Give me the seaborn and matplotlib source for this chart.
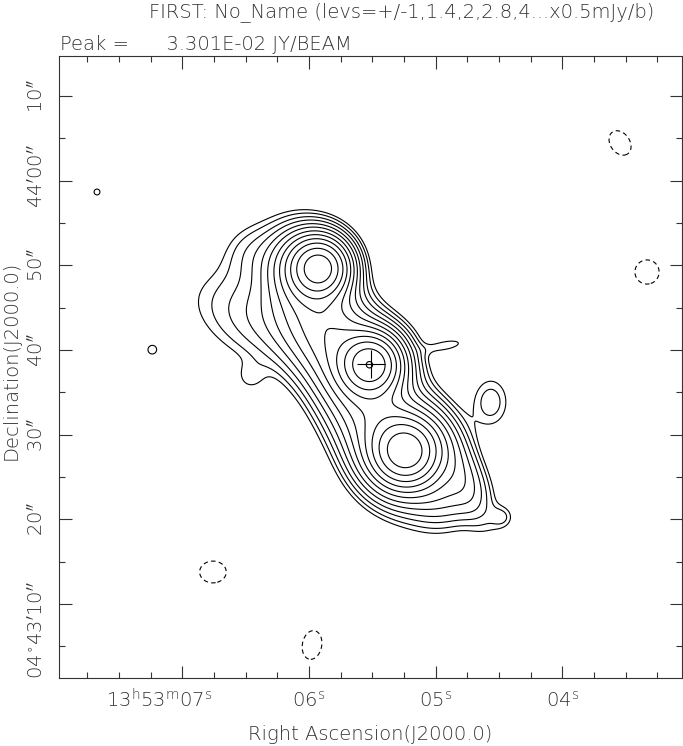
import numpy as np
import matplotlib
matplotlib.use("Agg")
import matplotlib.pyplot as plt
import matplotlib.transforms as mtransforms
import seaborn as sns

# cut-out limits: RA in seconds past 13h53m, Dec in arcsec past +04d43'
ra_left, ra_right = 7.973, 3.056
dec_bottom, dec_top = 1.26, 74.72
dec_centre_deg = 4.72

# source model (by eye): centre, peak (mJy/beam),
# gaussian sigma along/across (arcsec), angle of long axis (deg, ccw from west)
#   N, N halo, C, C halo, S, S halo, ridge N-C, ridge C-S, west wing, shoulder,
#   bump, SE extension, SE edge, tail, NE spur, east source, 4 holes, 2 specks
comp_ra = [5.913, 5.976, 5.511, 5.511, 5.234, 5.234, 5.874, 5.479, 6.189, 6.466,
           6.466, 4.927, 4.808, 4.469, 4.903, 4.564,
           3.545, 3.332, 6.758, 5.976, 7.673, 7.239]
comp_dec = [49.68, 49.90, 38.35, 38.35, 28.07, 28.07, 42.95, 32.44, 42.95, 51.57,
            36.69, 22.87, 25.83, 20.28, 40.59, 33.86,
            64.45, 49.21, 13.78, 5.16, 58.66, 40.00]
comp_peak = [20.0, 8.0, 20.0, 7.0, 19.0, 9.0, 5.5, 6.0, 1.6, 0.6,
             0.45, 1.5, 1.6, 0.6, 0.6, 0.85,
             -0.6, -0.6, -0.6, -0.6, 0.515, 0.515]
comp_sig_a = [1.89, 2.60, 1.89, 2.60, 2.13, 3.07, 5.90, 5.90, 7.00, 2.36,
              1.30, 2.60, 4.72, 1.00, 1.90, 2.36,
              2.60, 2.36, 2.60, 2.83, 1.42, 1.42]
comp_sig_b = [1.89, 2.60, 1.89, 2.60, 2.13, 3.07, 2.95, 3.07, 3.54, 2.36,
              1.30, 2.60, 1.65, 1.00, 0.60, 1.70,
              1.89, 2.36, 2.13, 1.89, 1.42, 1.42]
comp_angle = [0, 0, 0, 0, 0, 0, -64.8, -64.8, -20, 0,
              0, 0, -64.8, 0, 10, 90,
              -55, 0, 0, 80, 0, 0]

# contour levels: +/- 1, 1.4, 2, 2.8, 4 ... x 0.5 mJy/beam
level_unit = 0.5
level_steps = [1, 1.4, 2, 2.8, 4, 5.6, 8, 11.3, 16, 22.6, 32, 45.3, 64]
neg_steps = [-1]

# catalogue position marked with a cross
cross_ra = [5.511]
cross_dec = [38.35]

# tick values and labels
ra_ticks = [7, 6, 5, 4]
ra_labels = [r"$13^{\rm h}53^{\rm m}07^{\rm s}$", r"$06^{\rm s}$", r"$05^{\rm s}$", r"$04^{\rm s}$"]
dec_ticks = [70, 60, 50, 40, 30, 20, 10]
dec_labels = [r"$10^{\prime\prime}$", r"$44^{\prime}00^{\prime\prime}$", r"$50^{\prime\prime}$",
              r"$40^{\prime\prime}$", r"$30^{\prime\prime}$", r"$20^{\prime\prime}$",
              r"$04^{\circ}43^{\prime}10^{\prime\prime}$"]

title = "FIRST: No_Name (levs=+/-1,1.4,2,2.8,4...x0.5mJy/b)"
peak_text = "Peak =      3.301E-02 JY/BEAM"

sns.set_theme(style="ticks")
plt.rcParams["font.family"] = ["DejaVu Sans"]
plt.rcParams["font.weight"] = "light"
plt.rcParams["mathtext.fontset"] = "custom"
plt.rcParams["mathtext.rm"] = "DejaVu Sans:light"
plt.rcParams["mathtext.it"] = "DejaVu Sans:light"
ink = "#333333"
fs = 14

# build the map from the components
ra_grid = np.linspace(ra_right, ra_left, 800)
dec_grid = np.linspace(dec_bottom, dec_top, 800)
RA, DEC = np.meshgrid(ra_grid, dec_grid)
arcsec_per_sec = 15 * np.cos(np.deg2rad(dec_centre_deg))
flux = np.zeros_like(RA)
for r0, d0, pk, sa, sb, ang in zip(comp_ra, comp_dec, comp_peak, comp_sig_a, comp_sig_b, comp_angle):
    u = (r0 - RA) * arcsec_per_sec
    v = DEC - d0
    t = np.deg2rad(ang)
    p = u * np.cos(t) + v * np.sin(t)
    q = -u * np.sin(t) + v * np.cos(t)
    flux += pk * np.exp(-0.5 * ((p / sa) ** 2 + (q / sb) ** 2))

fig = plt.figure(figsize=(6.83, 7.46), dpi=100)
ax = fig.add_axes([59 / 683, 68 / 746, 623 / 683, 622 / 746])

ax.contour(RA, DEC, flux, levels=[s * level_unit for s in level_steps],
           colors="black", linewidths=0.8, linestyles="solid")
ax.contour(RA, DEC, flux, levels=[s * level_unit for s in neg_steps],
           colors="black", linewidths=0.8, linestyles=[(0, (4, 3))])

sns.scatterplot(x=cross_ra, y=cross_dec, marker="+", s=380, color="black",
                linewidth=0.8, ax=ax, legend=False)

ax.set_xlim(ra_left, ra_right)
ax.set_ylim(dec_bottom, dec_top)
ax.set_xticks(ra_ticks)
ax.set_xticks(np.arange(3.25, 8.0, 0.25), minor=True)
ax.set_yticks(dec_ticks)
ax.set_yticks(np.arange(5, 75, 5), minor=True)
ax.tick_params(which="both", direction="in", top=True, right=True,
               labelbottom=False, labelleft=False, color=ink, width=0.8)
ax.tick_params(which="major", length=9)
ax.tick_params(which="minor", length=4.5)
for sp in ax.spines.values():
    sp.set_color(ink)
    sp.set_linewidth(0.8)
ax.set_xlabel("")
ax.set_ylabel("")

# tick labels placed the way the original plotter put them
ra_shift = [-23, 0, 0, 0]
for val, lab, dx in zip(ra_ticks, ra_labels, ra_shift):
    tr = mtransforms.offset_copy(ax.get_xaxis_transform(), fig=fig, x=dx, y=0, units="dots")
    ax.text(val, -29 / 622, lab, transform=tr, ha="center", va="baseline",
            fontsize=fs, color=ink, clip_on=False)
dec_shift = [0, 4, 0, 0, 0, 0, -26]
for val, lab, dy in zip(dec_ticks, dec_labels, dec_shift):
    tr = mtransforms.offset_copy(ax.get_yaxis_transform(), fig=fig, x=0, y=dy, units="dots")
    ax.text(-16 / 623, val, lab, transform=tr, ha="center", va="baseline",
            rotation=90, rotation_mode="anchor", fontsize=fs, color=ink, clip_on=False)

fig.text(402 / 683, 1 - 12 / 746, title, ha="center", va="center", fontsize=fs, color=ink)
fig.text(60 / 683, 1 - 44 / 746, peak_text, ha="left", va="center", fontsize=fs, color=ink)
fig.text(370 / 683, 1 - 735 / 746, "Right Ascension(J2000.0)", ha="center", va="center",
         fontsize=fs, color=ink)
fig.text(11 / 683, 1 - 360 / 746, "Declination(J2000.0)", ha="center", va="center",
         rotation=90, fontsize=fs, color=ink)

fig.savefig("out.png", dpi=100)
